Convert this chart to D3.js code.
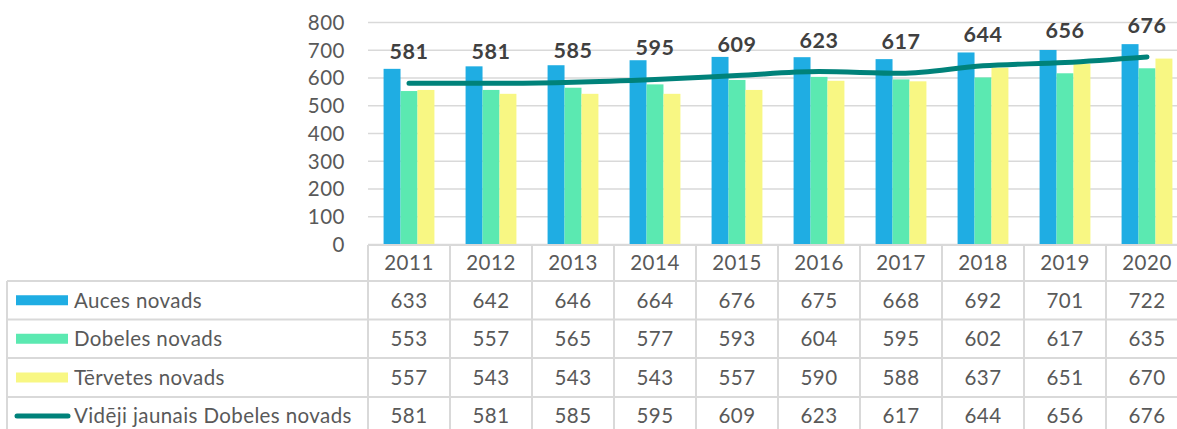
<!DOCTYPE html>
<html>
<head>
<meta charset="utf-8">
<script src="https://cdn.jsdelivr.net/npm/d3@7"></script>
<style>
  body { margin: 0; background: #fff; }
  svg { display: block; font-family: Lato, "Open Sans", sans-serif; }
</style>
</head>
<body>
<svg class="chart_svg" width="1177" height="429"></svg>
<script>
var years = ["2011", "2012", "2013", "2014", "2015", "2016", "2017", "2018", "2019", "2020"];
var auces = [633, 642, 646, 664, 676, 675, 668, 692, 701, 722];
var dobeles = [553, 557, 565, 577, 593, 604, 595, 602, 617, 635];
var tervetes = [557, 543, 543, 543, 557, 590, 588, 637, 651, 670];
var videji = [581, 581, 585, 595, 609, 623, 617, 644, 656, 676];
var seriesNames = ["Auces novads", "Dobeles novads", "Tērvetes novads", "Vidēji jaunais Dobeles novads"];
var yTicks = [0, 100, 200, 300, 400, 500, 600, 700, 800];

var barSeries = [auces, dobeles, tervetes];
var colors = ["#1fade3", "#5be9b1", "#f8f783"];
var lineColor = "#00827a";
var gridColor = "#d9d9d9";
var textColor = "#595959";
var fs = 20.5;

var svg = d3.select("svg.chart_svg");

var x = d3.scaleBand().domain(years).range([368, 1188]);
var y = d3.scaleLinear().domain([0, 800]).range([244.5, 22.5]);
var groupW = x.bandwidth() * 0.62;
var x1 = d3.scaleBand().domain([0, 1, 2]).range([0, groupW]);

// gridlines
svg.append("g").selectAll("line")
  .data(yTicks)
  .enter().append("line")
  .attr("x1", 368).attr("x2", 1177)
  .attr("y1", function(d) { return y(d); })
  .attr("y2", function(d) { return y(d); })
  .attr("stroke", gridColor)
  .attr("stroke-width", 1.5);

// y axis labels
svg.append("g").selectAll("text")
  .data(yTicks)
  .enter().append("text")
  .attr("x", 345)
  .attr("y", function(d) { return y(d); })
  .attr("dy", "0.36em")
  .attr("text-anchor", "end")
  .attr("font-size", fs)
  .attr("letter-spacing", 0.5)
  .attr("fill", textColor)
  .text(function(d) { return d; });

// bars
barSeries.forEach(function(vals, si) {
  svg.append("g").selectAll("rect")
    .data(vals)
    .enter().append("rect")
    .attr("x", function(d, i) { return x(years[i]) + (x.bandwidth() - groupW) / 2 + x1(si); })
    .attr("width", x1.bandwidth())
    .attr("y", function(d) { return y(d); })
    .attr("height", function(d) { return y(0) - y(d); })
    .attr("fill", colors[si]);
});

// average line
var line = d3.line()
  .x(function(d, i) { return x(years[i]) + x.bandwidth() / 2; })
  .y(function(d) { return y(d); })
  .curve(d3.curveMonotoneX);

svg.append("path")
  .attr("d", line(videji))
  .attr("fill", "none")
  .attr("stroke", lineColor)
  .attr("stroke-width", 5)
  .attr("stroke-linecap", "round");

// line labels
svg.append("g").selectAll("text")
  .data(videji)
  .enter().append("text")
  .attr("x", function(d, i) { return x(years[i]) + x.bandwidth() / 2; })
  .attr("y", function(d) { return y(d) - 24; })
  .attr("text-anchor", "middle")
  .attr("font-size", 21.5)
  .attr("font-weight", "bold")
  .attr("letter-spacing", 0.6)
  .attr("fill", "#404040")
  .text(function(d) { return d; });

// data table
var rowTops = [245, 281, 319.5, 358, 397, 435];
var tableData = [auces, dobeles, tervetes, videji];
var table = svg.append("g");

// horizontal borders
table.append("line")
  .attr("x1", 368).attr("x2", 1188)
  .attr("y1", rowTops[0]).attr("y2", rowTops[0])
  .attr("stroke", gridColor).attr("stroke-width", 2);
rowTops.slice(1).forEach(function(t) {
  table.append("line")
    .attr("x1", 7).attr("x2", 1188)
    .attr("y1", t).attr("y2", t)
    .attr("stroke", gridColor).attr("stroke-width", 2);
});
// vertical borders
table.append("line")
  .attr("x1", 7).attr("x2", 7)
  .attr("y1", rowTops[1]).attr("y2", 440)
  .attr("stroke", gridColor).attr("stroke-width", 2);
years.forEach(function(yr) {
  table.append("line")
    .attr("x1", x(yr)).attr("x2", x(yr))
    .attr("y1", rowTops[0]).attr("y2", 440)
    .attr("stroke", gridColor).attr("stroke-width", 2);
});

// header years
table.selectAll("text.yr")
  .data(years)
  .enter().append("text")
  .attr("class", "yr")
  .attr("x", function(d) { return x(d) + x.bandwidth() / 2; })
  .attr("y", (rowTops[0] + rowTops[1]) / 2)
  .attr("dy", "0.36em")
  .attr("text-anchor", "middle")
  .attr("font-size", fs)
  .attr("letter-spacing", 0.5)
  .attr("fill", textColor)
  .text(function(d) { return d; });

tableData.forEach(function(vals, ri) {
  var cy = (rowTops[ri + 1] + rowTops[ri + 2]) / 2;
  // legend key
  if (ri < 3) {
    table.append("rect")
      .attr("x", 16).attr("y", cy - 5)
      .attr("width", 52).attr("height", 10)
      .attr("fill", colors[ri]);
  } else {
    table.append("line")
      .attr("x1", 17).attr("x2", 68)
      .attr("y1", cy).attr("y2", cy)
      .attr("stroke", lineColor).attr("stroke-width", 5)
      .attr("stroke-linecap", "round");
  }
  table.append("text")
    .attr("x", 74).attr("y", cy)
    .attr("dy", "0.36em")
    .attr("font-size", fs)
    .attr("letter-spacing", 0.4)
    .attr("fill", textColor)
    .text(seriesNames[ri]);

  table.append("g").selectAll("text")
    .data(vals)
    .enter().append("text")
    .attr("x", function(d, i) { return x(years[i]) + x.bandwidth() / 2; })
    .attr("y", cy)
    .attr("dy", "0.36em")
    .attr("text-anchor", "middle")
    .attr("font-size", fs)
    .attr("letter-spacing", 0.5)
    .attr("fill", textColor)
    .text(function(d) { return d; });
});
</script>
</body>
</html>
